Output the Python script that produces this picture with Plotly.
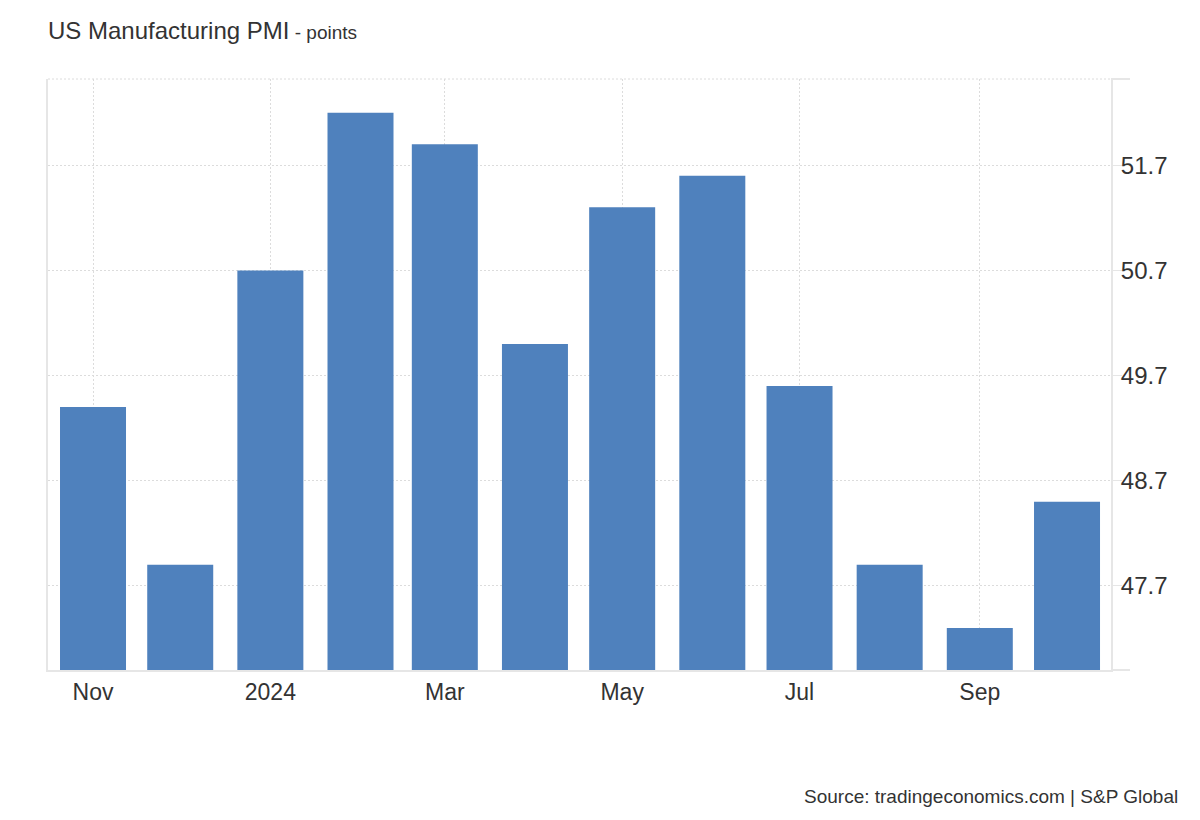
import plotly.graph_objects as go

# monthly readings, Nov 2023 - Oct 2024
months = ['2023-11-01', '2023-12-01', '2024-01-01', '2024-02-01', '2024-03-01', '2024-04-01',
          '2024-05-01', '2024-06-01', '2024-07-01', '2024-08-01', '2024-09-01', '2024-10-01']
pmi = [49.4, 47.9, 50.7, 52.2, 51.9, 50.0, 51.3, 51.6, 49.6, 47.9, 47.3, 48.5]

x_tickvals = ['2023-11-01', '2024-01-01', '2024-03-01', '2024-05-01', '2024-07-01', '2024-09-01']
x_ticktext = ['Nov', '2024', 'Mar', 'May', 'Jul', 'Sep']

y_tickvals = [47.7, 48.7, 49.7, 50.7, 51.7]
y_ticktext = ['47.7', '48.7', '49.7', '50.7', '51.7']

FONT = 'Liberation Sans, Arial, sans-serif'
LINE = '#e6e6e6'
GRID = '#dcdcdc'
DOTS = '2px,2px'

# page body adds ~8px offset, so everything is shifted up/left by that
fig = go.Figure()
fig.add_trace(go.Bar(x=months, y=pmi, width=22.7 * 86400000,
                     marker=dict(color='#4f81bd', line=dict(width=0)),
                     hoverinfo='x+y'))

fig.update_layout(
    width=1200, height=820,
    margin=dict(l=40, r=97, t=71, b=158),
    paper_bgcolor='white', plot_bgcolor='white',
    font=dict(family=FONT, color='#333333', size=24),
    showlegend=False,
    title=dict(text="US Manufacturing PMI<span style='font-size:19px'> - points</span>",
               x=40 / 1200, xanchor='left', y=1 - 23 / 820, yanchor='middle',
               font=dict(family=FONT, size=24, color='#333333')),
    xaxis=dict(type='date', range=['2023-10-16 12:30', '2024-10-16 03:00'],
               tickvals=x_tickvals, ticktext=x_ticktext,
               showgrid=True, gridcolor=GRID, griddash=DOTS, gridwidth=1,
               showline=True, linecolor=LINE, linewidth=2,
               ticks='', tickfont=dict(size=23, color='#333333'), zeroline=False),
    yaxis=dict(range=[46.9, 52.52], side='right',
               tickvals=y_tickvals, ticktext=y_ticktext,
               showgrid=True, gridcolor=GRID, griddash=DOTS, gridwidth=1,
               showline=True, mirror=True, linecolor=LINE, linewidth=2,
               ticks='outside', ticklen=9, tickcolor=LINE, tickwidth=1,
               ticklabelstandoff=-6,
               tickfont=dict(size=24, color='#333333'), zeroline=False),
    annotations=[dict(text='Source: tradingeconomics.com | S&P Global',
                      xref='paper', yref='paper', x=(1180 - 48) / 1063, y=-126 / 591,
                      xanchor='right', yanchor='middle', showarrow=False,
                      font=dict(family=FONT, size=19, color='#333333'))],
    shapes=[
        dict(type='line', xref='paper', yref='paper', x0=0, x1=1, y0=1, y1=1,
             line=dict(color=GRID, width=1, dash=DOTS)),
        dict(type='line', xref='paper', yref='paper', x0=1, x1=1 + 19 / 1063, y0=1, y1=1,
             line=dict(color=LINE, width=2)),
        dict(type='line', xref='paper', yref='paper', x0=1, x1=1 + 19 / 1063, y0=0, y1=0,
             line=dict(color=LINE, width=2)),
    ],
)

fig.write_html('out.html')
